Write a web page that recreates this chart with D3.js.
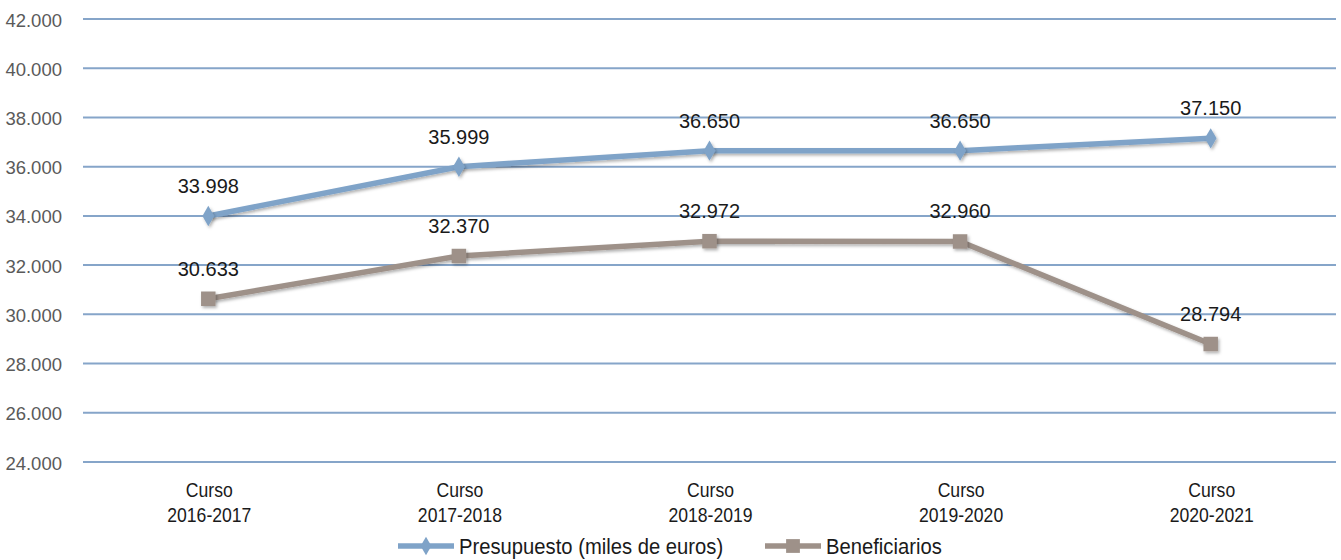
<!DOCTYPE html>
<html><head><meta charset="utf-8">
<script src="https://cdn.jsdelivr.net/npm/d3@7"></script>
<style>
html,body{margin:0;padding:0;background:#fff;}
svg{display:block;}
</style></head>
<body>
<svg id="chart" width="1341" height="560"></svg>
<script>
const categories = [["Curso","2016-2017"],["Curso","2017-2018"],["Curso","2018-2019"],["Curso","2019-2020"],["Curso","2020-2021"]];
const presupuesto = [33998, 35999, 36650, 36650, 37150];
const beneficiarios = [30633, 32370, 32972, 32960, 28794];
const yTicks = [24000, 26000, 28000, 30000, 32000, 34000, 36000, 38000, 40000, 42000];
const seriesNames = ["Presupuesto (miles de euros)", "Beneficiarios"];

(function(){
const svg = d3.select("#chart");
const mLeft = 83, mRight = 1336, mTop = 19, mBottom = 462;
const x = d3.scaleBand().domain(d3.range(categories.length)).range([mLeft, mRight]);
const y = d3.scaleLinear().domain([24000, 42000]).range([mBottom, mTop]);
const fmt = v => d3.format(",")(v).replace(/,/g, ".");
const sans = "'Liberation Sans', Arial, sans-serif";

const defs = svg.append("defs");
const f = defs.append("filter").attr("id","sh").attr("x","-50%").attr("y","-50%").attr("width","200%").attr("height","200%");
f.append("feDropShadow").attr("dx",1.5).attr("dy",2).attr("stdDeviation",1.5).attr("flood-color","#000").attr("flood-opacity",0.3);

// grid
const yAxis = d3.axisLeft(y).tickValues(yTicks).tickSize(0).tickFormat(fmt);
const ga = svg.append("g").attr("transform", `translate(${mLeft},0)`).call(yAxis);
ga.select(".domain").remove();
ga.selectAll("text").attr("x", -21).attr("dy","0.38em").attr("fill","#5a5a5a")
  .style("font-family",sans).style("font-size","18.5px").style("font-weight","300");
svg.append("g").selectAll("line").data(yTicks).join("line")
  .attr("x1", mLeft).attr("x2", mRight).attr("y1", d=>y(d)).attr("y2", d=>y(d))
  .attr("stroke","#86a5c9").attr("stroke-width",2);

const cx = i => x(i) + x.bandwidth()/2;

// x labels (condensed)
categories.forEach((c,i)=>{
  c.forEach((t,j)=>{
    svg.append("text").attr("transform",`translate(${cx(i)+1},${497+j*25}) scale(0.88,1)`)
      .attr("text-anchor","middle").attr("fill","#1a1a1a")
      .style("font-family",sans).style("font-size","20px").text(t);
  });
});

const line = d3.line().x((d,i)=>cx(i)).y(d=>y(d));

function drawSeries(vals, color, shape){
  const g = svg.append("g");
  g.append("path").datum(vals).attr("d", line).attr("fill","none").attr("stroke",color).attr("stroke-width",5.5).attr("filter","url(#sh)");
  g.selectAll("path.m").data(vals).join("path").attr("class","m")
    .attr("d", d3.symbol().type(shape==="diamond"?d3.symbolDiamond:d3.symbolSquare).size(shape==="diamond"?120:210))
    .attr("transform",(d,i)=>`translate(${cx(i)},${y(d)})`).attr("fill",color).attr("filter","url(#sh)");
  g.selectAll("text").data(vals).join("text").attr("x",(d,i)=>cx(i)).attr("y",d=>y(d)-23)
    .attr("text-anchor","middle").attr("fill","#1a1a1a")
    .style("font-family",sans).style("font-size","20px").text(fmt);
}
drawSeries(presupuesto, "#7fa3c8", "diamond");
drawSeries(beneficiarios, "#9e9189", "square");

// legend
const leg = svg.append("g");
const items = [{x:398, c:"#7fa3c8", s:"diamond", t:seriesNames[0]},{x:765, c:"#9e9189", s:"square", t:seriesNames[1]}];
items.forEach(it=>{
  leg.append("line").attr("x1",it.x).attr("x2",it.x+56).attr("y1",546).attr("y2",546).attr("stroke",it.c).attr("stroke-width",5.5);
  leg.append("path").attr("d",d3.symbol().type(it.s==="diamond"?d3.symbolDiamond:d3.symbolSquare).size(it.s==="diamond"?100:190))
    .attr("transform",`translate(${it.x+28},546)`).attr("fill",it.c);
  leg.append("text").attr("transform",`translate(${it.x+61},554) scale(0.92,1)`).text(it.t).attr("fill","#1a1a1a")
    .style("font-family",sans).style("font-size","22px");
});
})();
</script>
</body></html>
